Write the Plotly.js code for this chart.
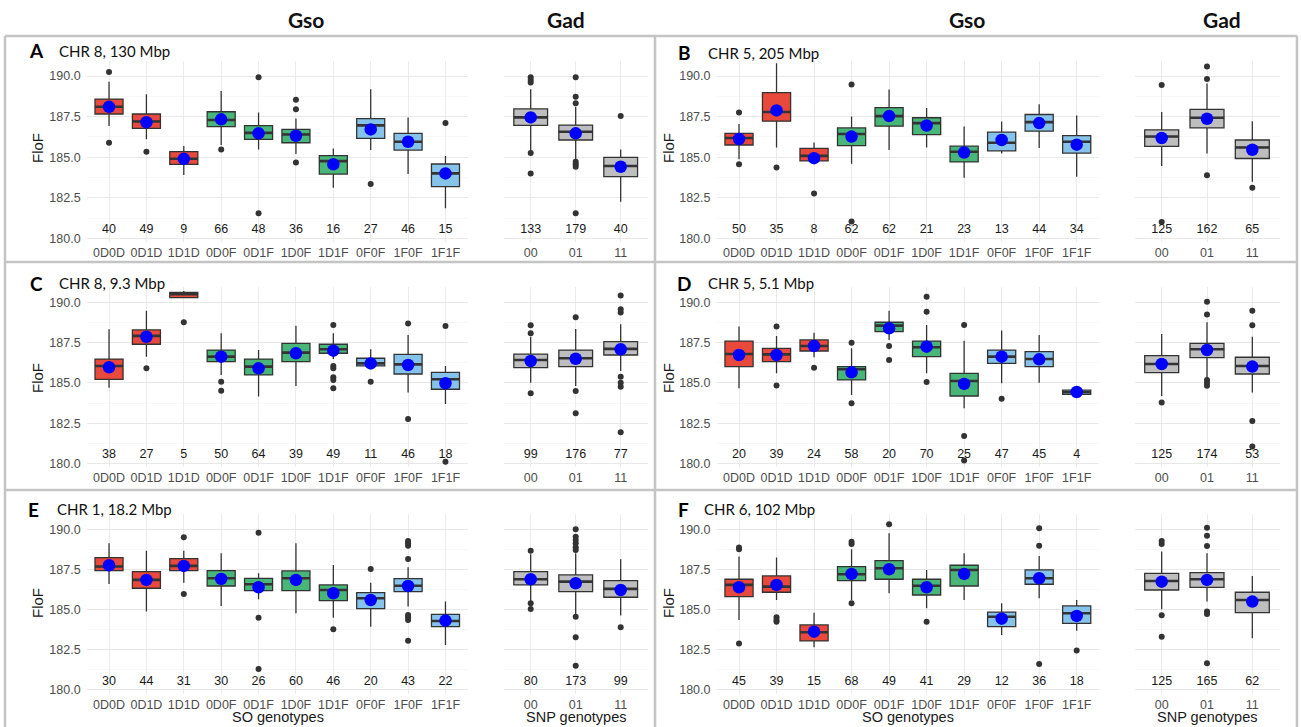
<!DOCTYPE html>
<html><head><meta charset="utf-8">
<script src="https://cdn.plot.ly/plotly-3.0.1.min.js"></script>
<style>html,body{margin:0;padding:0;background:#fff}#chart{width:1301px;height:727px}</style>
</head><body><div id="chart"></div>
<script>
// ---------------- DATA ----------------
const gsoCats = ["0D0D","0D1D","1D1D","0D0F","0D1F","1D0F","1D1F","0F0F","1F0F","1F1F"];
const gadCats = ["00","01","11"];
const panelLetters = ["A","B","C","D","E","F"];
const panelTitles = ["CHR 8, 130 Mbp","CHR 5, 205 Mbp","CHR 8, 9.3 Mbp","CHR 5, 5.1 Mbp","CHR 1, 18.2 Mbp","CHR 6, 102 Mbp"];
const colHeaders = ["Gso","Gad","Gso","Gad"];

// Panel A
const A_gso_lower  = [186.92,186.10,183.90,185.75,185.48,185.20,183.12,185.44,183.96,181.85];
const A_gso_q1     = [187.66,186.78,184.56,186.88,186.10,185.89,183.96,186.16,185.44,183.18];
const A_gso_median = [188.11,187.20,184.90,187.29,186.50,186.40,184.76,186.96,185.95,184.00];
const A_gso_q3     = [188.58,187.66,185.34,187.80,186.94,186.71,185.09,187.37,186.47,184.58];
const A_gso_upper  = [189.65,188.87,185.69,189.08,187.76,187.39,185.54,189.18,187.45,185.07];
const A_gso_mean   = [188.10,187.15,184.90,187.33,186.47,186.32,184.56,186.71,185.95,184.00];
const A_gso_n      = [40,49,9,66,48,36,16,27,46,15];
const A_gso_out    = [[190.25,185.89],[185.34],[],[185.48],[189.92,181.54],[188.54,187.95,184.68],[],[183.35],[],[187.10]];
const A_gad_lower  = [185.40,184.83,182.26];
const A_gad_q1     = [186.96,186.06,183.80];
const A_gad_median = [187.45,186.57,184.46];
const A_gad_q3     = [187.97,186.98,184.99];
const A_gad_upper  = [189.18,188.11,185.48];
const A_gad_mean   = [187.45,186.47,184.41];
const A_gad_n      = [133,179,40];
const A_gad_out    = [[189.92,189.75,189.60,185.25,184.00],[189.92,188.73,188.32,184.72,184.56,184.41,181.54],[187.54]];

// Panel B
const B_gso_lower  = [184.88,185.60,184.77,184.60,185.44,185.60,183.73,185.23,185.56,183.80];
const B_gso_q1     = [185.75,187.22,184.77,185.71,186.91,186.39,184.71,185.39,186.60,185.25];
const B_gso_median = [186.18,187.78,185.08,186.43,187.53,187.10,185.33,185.89,187.16,185.95];
const B_gso_q3     = [186.47,188.98,185.54,186.80,188.05,187.43,185.68,186.54,187.63,186.33];
const B_gso_upper  = [187.05,190.79,185.91,187.51,189.17,188.03,186.89,187.20,188.26,187.57];
const B_gso_mean   = [186.12,187.88,184.94,186.27,187.53,186.95,185.29,186.06,187.10,185.77];
const B_gso_n      = [50,35,8,62,62,21,23,13,44,34];
const B_gso_out    = [[187.76,184.56],[184.36],[182.76],[189.48,181.04],[],[],[],[],[],[]];
const B_gad_lower  = [184.46,185.23,183.49];
const B_gad_q1     = [185.66,186.80,184.92];
const B_gad_median = [186.27,187.43,185.60];
const B_gad_q3     = [186.68,187.95,186.06];
const B_gad_upper  = [187.78,189.54,187.22];
const B_gad_mean   = [186.18,187.37,185.46];
const B_gad_n      = [125,162,65];
const B_gad_out    = [[189.44,181.00],[190.58,189.81,183.88],[183.11]];

// Panel C
const C_gso_lower  = [184.71,186.64,190.31,185.50,184.15,184.81,186.50,186.06,184.40,183.69];
const C_gso_q1     = [185.23,187.41,190.31,186.33,185.50,186.33,186.85,186.06,185.56,184.61];
const C_gso_median = [186.06,187.93,190.52,186.64,186.02,186.89,187.10,186.22,186.16,185.23];
const C_gso_q3     = [186.49,188.30,190.64,187.05,186.49,187.47,187.41,186.54,186.78,185.66];
const C_gso_upper  = [188.34,189.50,190.73,188.09,187.05,188.57,188.09,187.10,187.99,186.06];
const C_gso_mean   = [185.98,187.88,null,186.64,185.91,186.85,187.01,186.22,186.12,184.98];
const C_gso_n      = [38,27,5,50,64,39,49,11,46,18];
const C_gso_out    = [[],[185.91],[188.78],[185.08,184.52],[],[],[188.61,186.06,185.91,185.35,185.19,184.67],[185.08],[188.71,182.76],[188.55,180.10]];
const C_gad_lower  = [185.02,184.81,185.75];
const C_gad_q1     = [185.95,186.02,186.74];
const C_gad_median = [186.43,186.54,187.12];
const C_gad_q3     = [186.80,187.05,187.57];
const C_gad_upper  = [187.88,188.36,188.65];
const C_gad_mean   = [186.37,186.51,187.10];
const C_gad_n      = [99,176,77];
const C_gad_out    = [[188.59,188.09,184.36],[189.09,184.50,183.11],[190.44,189.59,189.38,185.39,185.02,184.77,181.93]];

// Panel D
const D_gso_lower  = [184.67,185.60,186.60,184.25,187.68,185.60,183.42,184.98,185.02,184.29];
const D_gso_q1     = [186.02,186.33,186.99,185.19,188.20,186.64,184.19,186.22,186.02,184.29];
const D_gso_median = [186.80,186.78,187.30,185.85,188.57,187.22,185.12,186.64,186.49,184.42];
const D_gso_q3     = [187.61,187.16,187.68,186.02,188.78,187.61,185.60,187.05,186.95,184.56];
const D_gso_upper  = [188.51,187.93,188.13,187.16,189.50,188.61,187.63,188.26,187.99,184.71];
const D_gso_mean   = [186.74,186.74,187.30,185.66,188.40,187.26,184.94,186.64,186.47,184.44];
const D_gso_n      = [20,39,24,58,20,70,25,47,45,4];
const D_gso_out    = [[],[188.51,184.85],[185.95],[187.51,183.73],[187.30,186.43],[190.37,189.44,185.06],[188.61,181.70,180.17],[184.02],[],[]];
const D_gad_lower  = [184.19,185.29,184.40];
const D_gad_q1     = [185.64,186.58,185.56];
const D_gad_median = [186.18,187.10,186.06];
const D_gad_q3     = [186.70,187.47,186.60];
const D_gad_upper  = [188.05,188.78,187.88];
const D_gad_mean   = [186.18,187.05,186.02];
const D_gad_n      = [125,174,53];
const D_gad_out    = [[183.78],[190.06,189.27,185.19,185.02,184.83],[189.50,188.59,182.63,181.04]];

// Panel E
const E_gso_lower  = [186.60,184.88,186.68,185.23,185.64,184.77,184.50,183.94,185.19,182.80];
const E_gso_q1     = [187.43,186.33,187.43,186.47,186.18,186.18,185.56,185.06,186.12,183.94];
const E_gso_median = [187.68,186.85,187.72,186.95,186.58,186.95,186.22,185.71,186.49,184.29];
const E_gso_q3     = [188.24,187.37,188.17,187.43,186.95,187.41,186.54,186.06,186.93,184.71];
const E_gso_upper  = [189.13,188.67,188.67,188.51,187.26,189.13,187.78,186.68,187.63,185.50];
const E_gso_mean   = [187.76,186.85,187.72,186.91,186.39,186.85,186.02,185.60,186.47,184.32];
const E_gso_n      = [30,44,31,30,26,60,46,20,43,22];
const E_gso_out    = [[],[],[189.50,185.98],[],[189.79,184.50,181.31],[],[183.78],[187.53],[189.27,189.13,188.98,188.15,184.67,184.52,184.36,183.07],[]];
const E_gad_lower  = [185.50,184.73,184.63];
const E_gad_q1     = [186.54,186.12,185.77];
const E_gad_median = [186.89,186.74,186.29];
const E_gad_q3     = [187.37,187.16,186.80];
const E_gad_upper  = [188.45,188.51,188.13];
const E_gad_mean   = [186.89,186.64,186.22];
const E_gad_n      = [80,173,99];
const E_gad_out    = [[188.67,185.39,185.04],[190.00,189.54,189.34,189.13,188.88,188.71,184.56,183.28,181.51],[183.90]];

// Panel F
const F_gso_lower  = [184.36,185.60,182.66,185.60,186.02,185.08,185.60,183.42,185.71,183.69];
const F_gso_q1     = [185.81,186.08,183.05,186.80,186.89,185.91,186.47,183.94,186.58,184.15];
const F_gso_median = [186.54,186.43,183.59,187.20,187.57,186.49,187.47,184.56,186.95,184.77];
const F_gso_q3     = [186.89,187.10,184.05,187.68,188.05,186.89,187.76,184.85,187.47,185.23];
const F_gso_upper  = [188.30,188.24,184.81,188.76,189.75,187.47,188.51,185.39,188.34,185.60];
const F_gso_mean   = [186.39,186.54,183.63,187.22,187.51,186.39,187.22,184.44,186.95,184.61];
const F_gso_n      = [45,39,15,68,49,41,29,12,36,18];
const F_gso_out    = [[188.86,188.76,182.90],[184.52,184.36,184.25],[],[189.23,189.09,185.39],[190.31],[184.25],[],[],[190.06,188.98,181.62],[182.45]];
const F_gad_lower  = [185.02,185.50,183.22];
const F_gad_q1     = [186.22,186.39,184.81];
const F_gad_median = [186.78,186.89,185.60];
const F_gad_q3     = [187.26,187.30,186.08];
const F_gad_upper  = [188.61,188.51,187.10];
const F_gad_mean   = [186.74,186.85,185.50];
const F_gad_n      = [125,165,62];
const F_gad_out    = [[189.27,189.09,184.65,183.32],[190.10,189.59,188.96,184.88,184.73,181.66],[]];

// ---------------- STYLE / LAYOUT ----------------
const W = 1301, H = 727;
const RED = "#E8493B", GREEN = "#47B677", BLUE = "#86C3EA", GRAY = "#BEBEBE";
const gsoGroups = [{idx:[0,1,2], color:RED},{idx:[3,4,5,6], color:GREEN},{idx:[7,8,9], color:BLUE}];
const gadGroups = [{idx:[0,1,2], color:GRAY}];
const tickFont = {family:"Liberation Sans, Arial, sans-serif", size:12.5, color:"#4d4d4d"};
const YR = [179.75, 190.95];

// plot-area pixel boxes
const colX = [[86.6,467.9],[503.7,647.7],[716.5,1099.2],[1134.5,1279.5]];
const rowY = [[60.6,242.4],[287.4,467.3],[514.0,694.0]];

const panels = [
  {gso:[A_gso_lower,A_gso_q1,A_gso_median,A_gso_q3,A_gso_upper,A_gso_mean,A_gso_n,A_gso_out],
   gad:[A_gad_lower,A_gad_q1,A_gad_median,A_gad_q3,A_gad_upper,A_gad_mean,A_gad_n,A_gad_out]},
  {gso:[B_gso_lower,B_gso_q1,B_gso_median,B_gso_q3,B_gso_upper,B_gso_mean,B_gso_n,B_gso_out],
   gad:[B_gad_lower,B_gad_q1,B_gad_median,B_gad_q3,B_gad_upper,B_gad_mean,B_gad_n,B_gad_out]},
  {gso:[C_gso_lower,C_gso_q1,C_gso_median,C_gso_q3,C_gso_upper,C_gso_mean,C_gso_n,C_gso_out],
   gad:[C_gad_lower,C_gad_q1,C_gad_median,C_gad_q3,C_gad_upper,C_gad_mean,C_gad_n,C_gad_out]},
  {gso:[D_gso_lower,D_gso_q1,D_gso_median,D_gso_q3,D_gso_upper,D_gso_mean,D_gso_n,D_gso_out],
   gad:[D_gad_lower,D_gad_q1,D_gad_median,D_gad_q3,D_gad_upper,D_gad_mean,D_gad_n,D_gad_out]},
  {gso:[E_gso_lower,E_gso_q1,E_gso_median,E_gso_q3,E_gso_upper,E_gso_mean,E_gso_n,E_gso_out],
   gad:[E_gad_lower,E_gad_q1,E_gad_median,E_gad_q3,E_gad_upper,E_gad_mean,E_gad_n,E_gad_out]},
  {gso:[F_gso_lower,F_gso_q1,F_gso_median,F_gso_q3,F_gso_upper,F_gso_mean,F_gso_n,F_gso_out],
   gad:[F_gad_lower,F_gad_q1,F_gad_median,F_gad_q3,F_gad_upper,F_gad_mean,F_gad_n,F_gad_out]}
];

const traces = [];
const layout = {
  width: W, height: H, margin:{l:0,r:0,t:0,b:0},
  paper_bgcolor:"#fff", plot_bgcolor:"#fff", showlegend:false, boxmode:"overlay",
  annotations: [], shapes: []
};

function addSub(k, cats, d, groups, medSize, colIdx, rowIdx, showY) {
  const [lower,q1,med,q3,upper,mean,n,out] = d;
  const xa = "x"+k, ya = "y"+k;
  groups.forEach(g => {
    traces.push({type:"box", xaxis:xa, yaxis:ya,
      x: g.idx.map(i=>cats[i]), q1: g.idx.map(i=>q1[i]), median: g.idx.map(i=>med[i]),
      q3: g.idx.map(i=>q3[i]), lowerfence: g.idx.map(i=>lower[i]), upperfence: g.idx.map(i=>upper[i]),
      width:0.75, whiskerwidth:0, boxpoints:false, fillcolor:g.color,
      line:{color:"#333333", width:1.3}, hoverinfo:"skip"});
  });
  // thick median
  traces.push({type:"scatter", mode:"markers", xaxis:xa, yaxis:ya, x:cats, y:med,
    marker:{symbol:"line-ew", size:medSize, line:{color:"#333333", width:2.6}}, hoverinfo:"skip"});
  // outliers
  const ox=[], oy=[];
  out.forEach((arr,i)=>arr.forEach(v=>{ox.push(cats[i]); oy.push(v);}));
  traces.push({type:"scatter", mode:"markers", xaxis:xa, yaxis:ya, x:ox, y:oy,
    marker:{color:"#333333", size:6}, hoverinfo:"skip"});
  // means
  traces.push({type:"scatter", mode:"markers", xaxis:xa, yaxis:ya, x:cats, y:mean,
    marker:{color:"#0000FF", size:12.5}, hoverinfo:"skip"});
  // counts
  traces.push({type:"scatter", mode:"text", xaxis:xa, yaxis:ya, x:cats, y:cats.map(()=>180.5),
    text:n.map(String), textposition:"middle center", cliponaxis:false,
    textfont:{family:"Liberation Sans, Arial, sans-serif", size:12.5, color:"#1a1a1a"}, hoverinfo:"skip"});

  const cx = colX[colIdx], ry = rowY[rowIdx];
  layout["xaxis"+k] = {domain:[cx[0]/W, cx[1]/W], anchor:ya, type:"category",
    categoryorder:"array", categoryarray:cats, range:[-0.6, cats.length-0.4],
    showgrid:true, gridcolor:"#ebebeb", gridwidth:1, zeroline:false, showline:false,
    ticks:"", tickfont:tickFont, ticklabelstandoff:1, fixedrange:true};
  layout["yaxis"+k] = {domain:[1-ry[1]/H, 1-ry[0]/H], anchor:xa, range:YR,
    tick0:180, dtick:2.5, tickformat:".1f", showticklabels:showY, ticks:"",
    ticklabelstandoff:5, showgrid:true, gridcolor:"#e8e8e8", gridwidth:1,
    minor:{tick0:180, dtick:1.25, showgrid:true, gridcolor:"#f2f2f2", gridwidth:0.6},
    zeroline:false, showline:false, tickfont:tickFont, fixedrange:true};
}

panels.forEach((p, i) => {
  const row = Math.floor(i/2), side = i%2;
  addSub(i*2+1, gsoCats, p.gso, gsoGroups, 20, side*2, row, true);
  addSub(i*2+2, gadCats, p.gad, gadGroups, 24.5, side*2+1, row, false);
});

// annotations
function ann(text, px, py, opts) {
  layout.annotations.push(Object.assign({text, x:px/W, y:1-py/H, xref:"paper", yref:"paper",
    showarrow:false, xanchor:"center", yanchor:"middle"}, opts));
}
const hdrX = [306, 566, 967, 1222];
colHeaders.forEach((t,i)=>ann("<b>"+t+"</b>", hdrX[i], 20, {font:{family:"Lato, Open Sans, sans-serif", size:21, color:"#111"}}));

const letterPos = [[36,51],[684,53],[36,283],[684,283],[33,509],[683,509]];
const titlePos  = [[57,51],[706,53],[57,283],[706,283],[55,509],[702,509]];
panelLetters.forEach((L,i)=>{
  ann("<b>"+L+"</b>", letterPos[i][0], letterPos[i][1], {font:{family:"Lato, Open Sans, sans-serif", size:19, color:"#000"}});
  ann(panelTitles[i], titlePos[i][0], titlePos[i][1], {xanchor:"left", font:{family:"Lato, Open Sans, sans-serif", size:15, color:"#111"}});
});
const flofPos = [[37,148],[668,148],[37,378],[668,378],[37,603],[668,603]];
flofPos.forEach(p=>ann("FloF", p[0], p[1], {textangle:-90, font:{family:"Liberation Sans, Arial, sans-serif", size:15, color:"#1a1a1a"}}));
ann("SO genotypes", 278, 717, {font:{family:"Liberation Sans, Arial, sans-serif", size:14.5, color:"#1a1a1a"}});
ann("SNP genotypes", 576, 717, {font:{family:"Liberation Sans, Arial, sans-serif", size:14.5, color:"#1a1a1a"}});
ann("SO genotypes", 908, 717, {font:{family:"Liberation Sans, Arial, sans-serif", size:14.5, color:"#1a1a1a"}});
ann("SNP genotypes", 1207, 717, {font:{family:"Liberation Sans, Arial, sans-serif", size:14.5, color:"#1a1a1a"}});

// panel borders
function line(x0,y0,x1,y1){layout.shapes.push({type:"line", xref:"paper", yref:"paper",
  x0:x0/W, y0:1-y0/H, x1:x1/W, y1:1-y1/H, line:{color:"#c4c4c4", width:2.5}});}
line(5,36,1297,36); line(5,36,5,727); line(1297,36,1297,727); line(655,36,655,727);
line(5,262,1297,262); line(5,490,1297,490);

Plotly.newPlot("chart", traces, layout, {displayModeBar:false, staticPlot:true});
</script></body></html>
